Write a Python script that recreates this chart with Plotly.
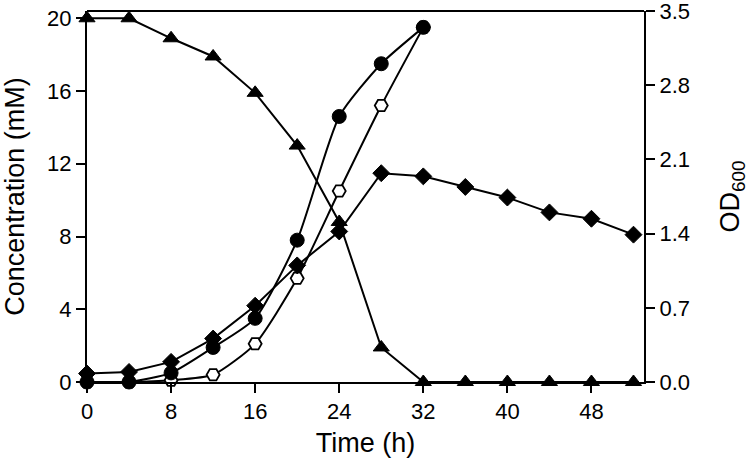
import plotly.graph_objects as go

time = [0, 4, 8, 12, 16, 20, 24, 28, 32, 36, 40, 44, 48, 52]
substrate = [20.0, 20.0, 18.9, 17.9, 15.9, 13.0, 8.8, 1.9, 0, 0, 0, 0, 0, 0]
time_prod = [0, 4, 8, 12, 16, 20, 24, 28, 32]
product_filled = [0.0, 0.0, 0.5, 1.9, 3.5, 7.8, 14.6, 17.5, 19.5]
product_open = [0.0, 0.0, 0.1, 0.4, 2.1, 5.7, 10.5, 15.2, 19.5]
od600 = [0.08, 0.095, 0.19, 0.41, 0.72, 1.10, 1.42, 1.97, 1.94, 1.84, 1.74, 1.60, 1.54, 1.39]

x_ticks = [0, 8, 16, 24, 32, 40, 48]
y_ticks = [0, 4, 8, 12, 16, 20]
y2_ticks = [0.0, 0.7, 1.4, 2.1, 2.8, 3.5]

FONT = "Liberation Sans, Arial, sans-serif"
fig = go.Figure()

fig.add_trace(go.Scatter(
    x=time, y=substrate, mode="lines+markers", cliponaxis=False,
    line=dict(color="black", width=2),
    marker=dict(symbol="triangle-up", size=14, color="black", line=dict(color="black", width=1)),
))
fig.add_trace(go.Scatter(
    x=time, y=od600, yaxis="y2", mode="lines+markers", cliponaxis=False,
    line=dict(color="black", width=2),
    marker=dict(symbol="diamond", size=13, color="black", line=dict(color="black", width=1)),
))
fig.add_trace(go.Scatter(
    x=time_prod, y=product_open, mode="lines+markers", cliponaxis=False,
    line=dict(color="black", width=2, shape="spline", smoothing=0.6),
    marker=dict(symbol="hexagon2", size=13, color="white", line=dict(color="black", width=1.8)),
))
fig.add_trace(go.Scatter(
    x=time_prod, y=product_filled, mode="lines+markers", cliponaxis=False,
    line=dict(color="black", width=2, shape="spline", smoothing=0.6),
    marker=dict(symbol="circle", size=14, color="black", line=dict(color="black", width=1)),
))

axis_common = dict(showgrid=False, zeroline=False, showline=True, linecolor="black", linewidth=2,
                   ticks="outside", tickcolor="black", tickwidth=2, ticklen=9, automargin=False,
                   ticklabeloverflow="allow",
                   tickfont=dict(family=FONT, size=22, color="black"))

fig.update_layout(
    width=750, height=465,
    margin=dict(l=87, r=106, t=11, b=83),
    paper_bgcolor="white", plot_bgcolor="white",
    showlegend=False,
    xaxis=dict(range=[0, 53], tickvals=x_ticks, mirror=False,
               title=dict(text="Time (h)", font=dict(family=FONT, size=27, color="black"), standoff=10),
               **axis_common),
    yaxis=dict(range=[0, 20.4], tickvals=y_ticks,
               title=dict(text="Concentration (mM)", font=dict(family=FONT, size=27, color="black"), standoff=15),
               **axis_common),
    yaxis2=dict(range=[0, 3.5], tickvals=y2_ticks, tickformat=".1f", overlaying="y", side="right",
                title=dict(text="OD<sub>600</sub>", font=dict(family=FONT, size=27, color="black"), standoff=31),
                **axis_common),
    shapes=[dict(type="line", xref="paper", yref="paper", x0=0, x1=1, y0=1, y1=1,
                 line=dict(color="black", width=2))],
)

# remove the browser's default body margin so the figure sits at the page origin
fig.write_html("out.html", config={"displayModeBar": False},
               post_script="document.body.style.margin='0px';")
